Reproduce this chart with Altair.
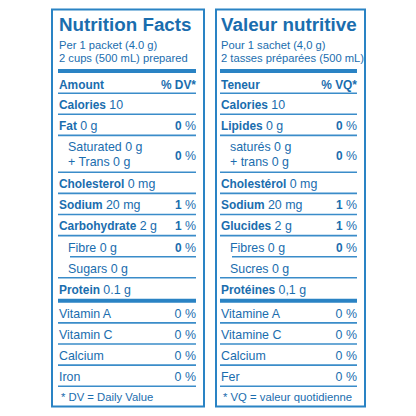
import altair as alt
import pandas as pd

# ---------------- content ----------------
titles = ["Nutrition Facts", "Valeur nutritive"]
serving_1 = ["Per 1 packet (4.0 g)", "Pour 1 sachet (4,0 g)"]
serving_2 = ["2 cups (500 mL) prepared", "2 tasses préparées (500 mL)"]
header_left = ["Amount", "Teneur"]
header_right = ["% DV*", "% VQ*"]

nutrients_en = ["Calories", "Fat", "Saturated", "+ Trans", "Cholesterol", "Sodium",
                "Carbohydrate", "Fibre", "Sugars", "Protein"]
nutrients_fr = ["Calories", "Lipides", "saturés", "+ trans", "Cholestérol", "Sodium",
                "Glucides", "Fibres", "Sucres", "Protéines"]
amounts_en = ["10", "0 g", "0 g", "0 g", "0 mg", "20 mg", "2 g", "0 g", "0 g", "0.1 g"]
amounts_fr = ["10", "0 g", "0 g", "0 g", "0 mg", "20 mg", "2 g", "0 g", "0 g", "0,1 g"]
nutrient_dv = [None, 0, 0, None, None, 1, 1, 0, None, None]

vitamins_en = ["Vitamin A", "Vitamin C", "Calcium", "Iron"]
vitamins_fr = ["Vitamine A", "Vitamine C", "Calcium", "Fer"]
vitamin_dv = [0, 0, 0, 0]

footnotes = ["*  DV = Daily Value", "*  VQ = valeur quotidienne"]

# ---------------- styling / layout ----------------
FONT = "Liberation Sans, Arial, Helvetica, sans-serif"
TEXT_C = "#1a6dae"
LIGHT_C = "#3a8cc9"
BORDER_C = "#2a83c4"
BODY_R = 12.4
BODY_B = 11.9
SERV = 11.2
FOOT = 11.3
TITLE = 18.8

# Arial/Helvetica advance widths (1/1000 em)
HB = {' ': 278, 'C': 722, 'a': 556, 'l': 278, 'o': 611, 'r': 389, 'i': 278, 'e': 556,
      's': 556, 'F': 611, 't': 333, 'h': 611, 'S': 667, 'd': 611, 'u': 611, 'm': 889,
      'b': 611, 'y': 556, 'G': 778, 'P': 667, 'n': 611, 'L': 611, 'p': 611, 'é': 556,
      '%': 889}
HR = {' ': 278, '%': 889}


def tw(s, size, bold):
    tab = HB if bold else HR
    return sum(tab.get(c, 556) for c in s) / 1000 * size


box_x = [(52, 204), (216, 365)]
content_x = [(58, 196), (220, 357)]

texts, rules, boxes = [], [], []


def add_text(x, y, s, kind):
    texts.append(dict(x=x, y=y, t=s, kind=kind))


def add_rule(x0, x1, y, kind):
    rules.append(dict(x=x0, x2=x1, y=y, kind=kind))


P = 21.6
for p in range(2):
    cl, cr = content_x[p]
    tl = cl + 1
    bx0, bx1 = box_x[p]
    boxes.append(dict(x=bx0, x2=bx1, y=5, y2=411.5))
    names = nutrients_en if p == 0 else nutrients_fr
    amts = amounts_en if p == 0 else amounts_fr
    vits = vitamins_en if p == 0 else vitamins_fr

    add_text(tl, 27.5, titles[p], "title")
    add_text(tl, 45, serving_1[p], "serv")
    add_text(tl, 59, serving_2[p], "serv")
    add_rule(cl, cr, 68, "thick")
    add_text(tl, 86, header_left[p], "bold")
    add_text(cr, 86, header_right[p], "bold_r")
    top = 90.7
    add_rule(cl, cr, top, "thin")

    def dv(val, y, bold):
        add_text(cr, y, "%", "reg_r")
        add_text(cr - tw(" %", BODY_R, False), y, str(val), "bold_r" if bold else "reg_r")

    i = 0
    while i < len(names):
        if i == 2:  # saturated + trans (two lines, indented)
            add_text(tl + 9, top + 15.5, f"{names[2]} {amts[2]}", "reg")
            add_text(tl + 9, top + 31, f"{names[3]} {amts[3]}", "reg")
            dv(nutrient_dv[2], top + 25, True)
            top += 1.75 * P
            add_rule(cl, cr, top, "thin")
            i += 2
            continue
        base = top + 16.3
        indent = i in (7, 8)
        if indent:
            add_text(tl + 9, base, f"{names[i]} {amts[i]}", "reg")
        else:
            add_text(tl, base, names[i], "bold")
            add_text(tl + tw(names[i] + " ", BODY_B, True), base, amts[i], "reg")
        if nutrient_dv[i] is not None:
            dv(nutrient_dv[i], base, True)
        if i == 9:  # protein -> thick bar
            top = top + P + 1.8
            add_rule(cl, cr, top, "thick")
            top += 1.2
        else:
            top += P
            add_rule(cl + 12 if i == 7 else cl, cr, top, "thin")
        i += 1

    for j, v in enumerate(vits):
        base = top + 16.3
        add_text(tl, base, v, "reg")
        dv(vitamin_dv[j], base, False)
        top += P
        add_rule(cl, cr, top, "thin")
    add_text(tl + 2, top + 15, footnotes[p], "foot")

tdf = pd.DataFrame(texts)
rdf = pd.DataFrame(rules)
bdf = pd.DataFrame(boxes)

xs = alt.Scale(domain=[8, 408], nice=False, zero=False)
ys = alt.Scale(domain=[3.5, 413], nice=False, zero=False, reverse=True)
X = alt.X("x:Q", scale=xs, axis=None)
Y = alt.Y("y:Q", scale=ys, axis=None)

base_t = alt.Chart(tdf).encode(x=X, y=Y, text="t:N")


def tlayer(kind, size, weight, align, color):
    return base_t.transform_filter(alt.datum.kind == kind).mark_text(
        font=FONT, fontSize=size, fontWeight=weight, align=align,
        baseline="alphabetic", color=color)


layers = [
    alt.Chart(bdf).mark_rect(fillOpacity=0, stroke=BORDER_C, strokeWidth=2).encode(
        x=X, x2="x2:Q", y=Y, y2="y2:Q"),
    alt.Chart(rdf).transform_filter(alt.datum.kind == "thin").mark_rule(
        color=LIGHT_C, strokeWidth=1.6).encode(x=X, x2="x2:Q", y=Y),
    alt.Chart(rdf).transform_filter(alt.datum.kind == "thick").mark_rule(
        color=BORDER_C, strokeWidth=4).encode(x=X, x2="x2:Q", y=Y),
    tlayer("title", TITLE, "bold", "left", TEXT_C),
    tlayer("serv", SERV, "normal", "left", TEXT_C),
    tlayer("foot", FOOT, "normal", "left", TEXT_C),
    tlayer("bold", BODY_B, "bold", "left", TEXT_C),
    tlayer("reg", BODY_R, "normal", "left", TEXT_C),
    tlayer("bold_r", BODY_B, "bold", "right", TEXT_C),
    tlayer("reg_r", BODY_R, "normal", "right", TEXT_C),
]

chart = alt.layer(*layers).properties(
    width=400, height=400, padding=0, autosize=alt.AutoSizeParams(type="none"),
    background="white",
).configure_view(strokeWidth=0)

chart.save("out.html", embed_options={"renderer": "svg", "actions": False})
